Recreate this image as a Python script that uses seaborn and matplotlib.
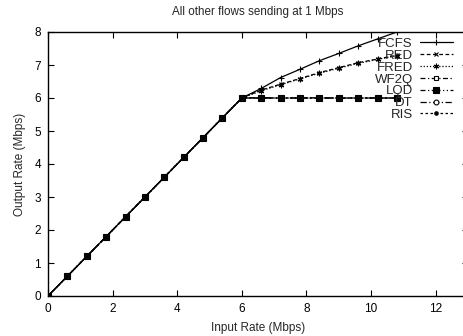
import numpy as np
import pandas as pd
import matplotlib
matplotlib.use("Agg")
import matplotlib.pyplot as plt
import seaborn as sns

# input rate (Mbps) for every sample point
input_rate = [0.0, 0.6, 1.2, 1.8, 2.4, 3.0, 3.6, 4.2, 4.8, 5.4, 6.0,
              6.6, 7.2, 7.8, 8.4, 9.0, 9.6, 10.2, 10.8]
ramp = [0.0, 0.6, 1.2, 1.8, 2.4, 3.0, 3.6, 4.2, 4.8, 5.4, 6.0]

fcfs = ramp + [6.29, 6.62, 6.87, 7.13, 7.35, 7.58, 7.79, 8.00]
red = ramp + [6.24, 6.42, 6.59, 6.77, 6.92, 7.07, 7.18, 7.30]
fred = ramp + [6.22, 6.40, 6.58, 6.75, 6.90, 7.05, 7.17, 7.28]
wf2q = ramp + [6.00, 6.00, 6.00, 6.00, 6.00, 6.00, 6.00, 6.00]
lqd = ramp + [6.01, 6.00, 6.00, 6.01, 5.99, 6.00, 6.00, 6.00]
dt = ramp + [6.00, 6.00, 6.00, 6.00, 6.00, 6.00, 6.00, 6.00]
ris = ramp + [6.00, 6.00, 6.00, 6.00, 6.00, 6.00, 6.00, 6.00]

names = ["FCFS", "RED", "FRED", "WF2Q", "LQD", "DT", "RIS"]
values = [fcfs, red, fred, wf2q, lqd, dt, ris]
# gnuplot-ish line styles
styles = {
    "FCFS": dict(ls="-", marker="+", ms=5, mfc="black"),
    "RED": dict(ls=(0, (3, 2)), marker="x", ms=3.5, mfc="black"),
    "FRED": dict(ls=(0, (1, 1.5)), marker=(6, 2, 0), ms=4, mfc="black"),
    "WF2Q": dict(ls=(0, (4, 2, 1, 2)), marker="s", ms=3.5, mfc="white"),
    "LQD": dict(ls=(0, (4, 2, 1, 2, 1, 2)), marker="s", ms=4, mfc="black"),
    "DT": dict(ls=(0, (5, 2, 1, 2)), marker="o", ms=3.5, mfc="white"),
    "RIS": dict(ls=(0, (2, 2)), marker="o", ms=2.5, mfc="black"),
}

sns.set_style("ticks")
plt.rcParams["font.family"] = ["Liberation Sans", "DejaVu Sans"]
plt.rcParams["font.size"] = 8.5

fig = plt.figure(figsize=(4.64, 3.36), dpi=100)
ax = fig.add_axes([48 / 464, 40 / 336, 420 / 464, 264 / 336])

for name, vals in zip(names, values):
    df = pd.DataFrame({"x": input_rate, "y": vals})
    st = styles[name]
    sns.lineplot(data=df, x="x", y="y", ax=ax, color="black", lw=0.9,
                 linestyle=st["ls"], marker=st["marker"], markersize=st["ms"],
                 markerfacecolor=st["mfc"], markeredgecolor="black",
                 markeredgewidth=0.8, label=name)

ax.set_xlim(0, 13)
ax.set_ylim(0, 8)
ax.set_xticks([0, 2, 4, 6, 8, 10, 12])
ax.set_yticks(range(0, 9))
ax.tick_params(direction="in", length=4, width=0.8, top=True, right=True,
               labelsize=8.5, colors="black", pad=5)
for sp in ax.spines.values():
    sp.set_visible(True)
    sp.set_linewidth(1.0)
    sp.set_color("black")

ax.set_xlabel("Input Rate (Mbps)", fontsize=8.5, labelpad=5)
ax.set_ylabel("Output Rate (Mbps)", fontsize=8.5, labelpad=6)
ax.set_title("All other flows sending at 1 Mbps", fontsize=8.4, pad=12)

leg = ax.legend(loc="upper right", bbox_to_anchor=(0.964, 0.978),
                markerfirst=False, frameon=False, fontsize=9.5,
                handlelength=2.5, handletextpad=0.53, labelspacing=-0.03,
                borderpad=0.0, borderaxespad=0.0)

fig.savefig("out.png", dpi=100)
